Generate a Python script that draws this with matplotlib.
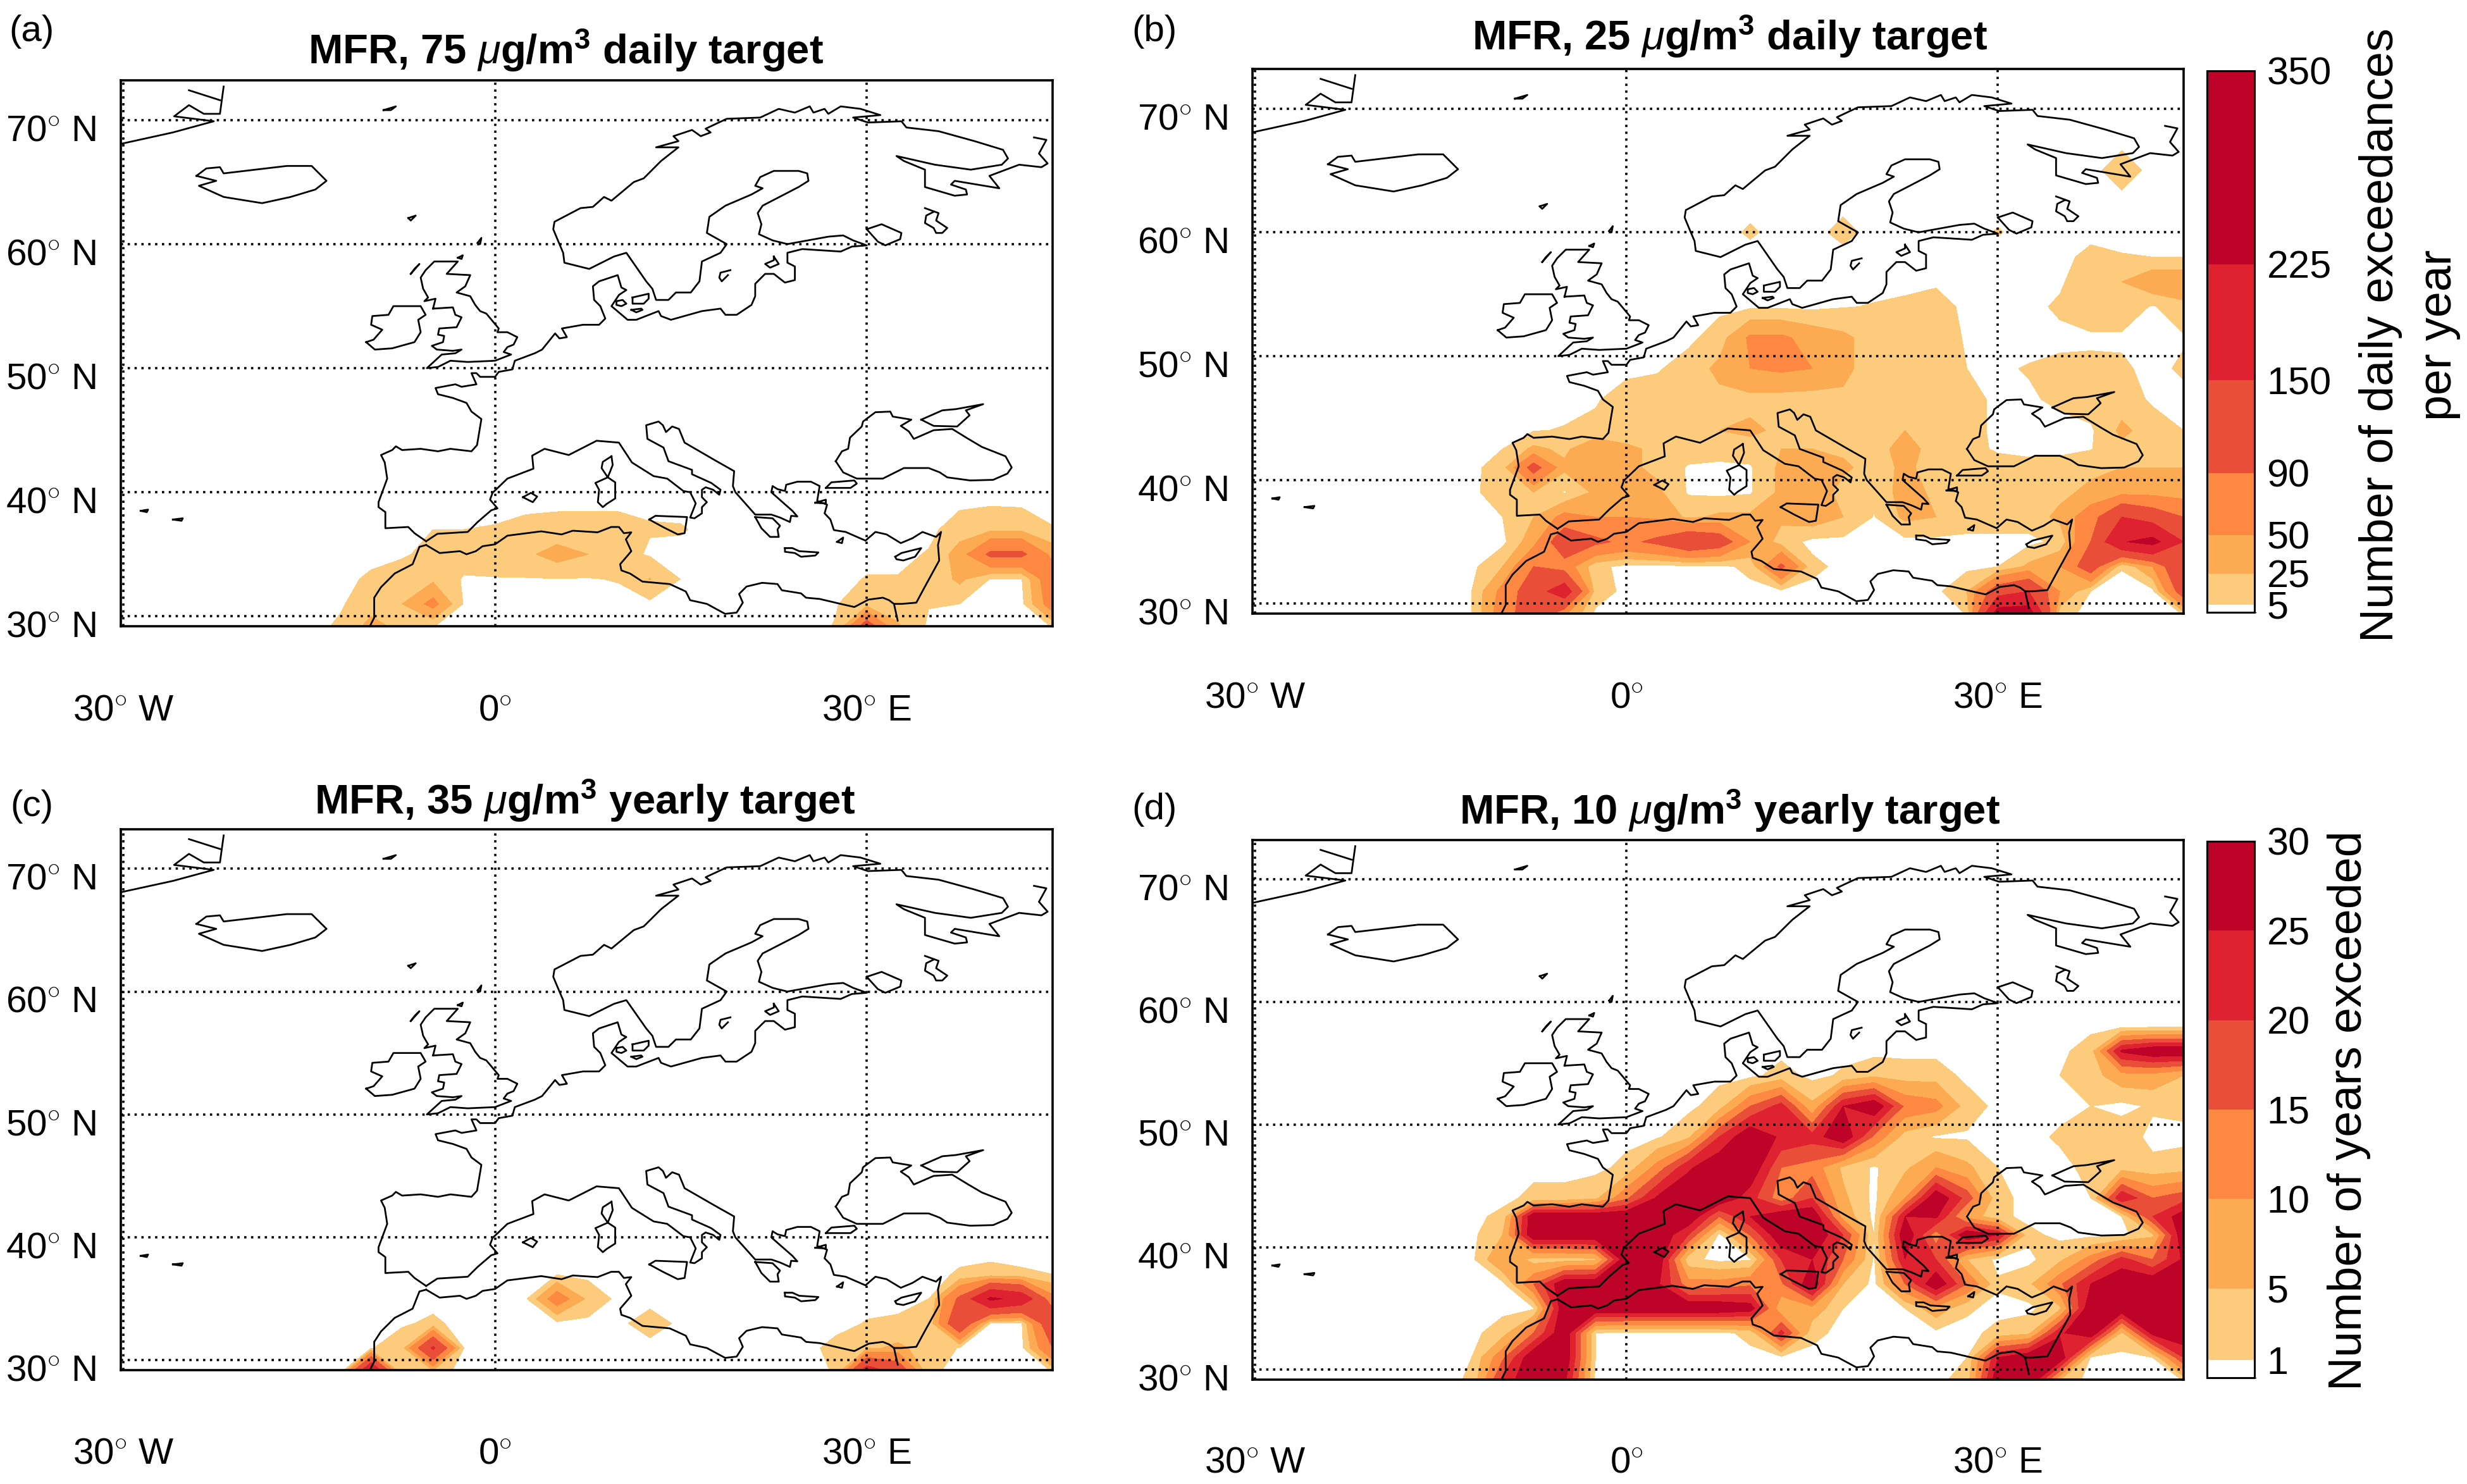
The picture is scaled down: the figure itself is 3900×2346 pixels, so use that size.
# maps of PM exceedances under the MFR scenario
import matplotlib
matplotlib.use("Agg")
import matplotlib.pyplot as plt
import numpy as np
from matplotlib.colors import BoundaryNorm, ListedColormap
from matplotlib.cm import ScalarMappable

plt.rcParams["font.family"] = ["Liberation Sans", "DejaVu Sans"]
plt.rcParams["mathtext.fontset"] = "custom"
plt.rcParams["mathtext.rm"] = "Liberation Sans"
plt.rcParams["mathtext.it"] = "Liberation Sans:italic"
plt.rcParams["mathtext.bf"] = "Liberation Sans:bold"

colores = ["#ffffff", "#fdcb7c", "#fdab52", "#fc8842", "#e94f38", "#de2230", "#bd0428"]
niveles_dias = [0, 5, 25, 50, 90, 150, 225, 350]
niveles_anios = [0, 1, 5, 10, 15, 20, 25, 30]

lons = [-15, -12.5, -10, -7.5, -5, -2.5, 0, 2.5, 5, 7.5, 10, 12.5, 15, 17.5, 20, 22.5, 25, 27.5, 30, 32.5, 35, 37.5, 40, 42.5, 45]
lats = [29, 31, 33, 35, 37, 39, 41, 42.5, 44, 46.5, 49, 51.5, 54, 56, 58, 60, 62.5, 65, 67.5]

# filas de sur a norte, las que faltan son cero
valores_a = [
    [0, 8, 35, 20, 3, 0, 0, 0, 0, 0, 0, 0, 0, 0, 0, 0, 0, 6, 130, 30, 1, 0, 0, 0, 4],
    [0, 3, 15, 25, 60, 3, 0, 0, 0, 0, 0, 1, 0, 0, 0, 0, 0, 4, 15, 12, 6, 5, 0, 0, 70],
    [0, 0, 8, 18, 20, 3, 4, 4, 4.5, 4, 6, 26, 4.5, 0, 0, 0, 0, 0, 6, 6, 8, 30, 4, 4, 80],
    [0, 0, 0, 2, 12, 15, 15, 20, 35, 25, 12, 3, 0, 0, 0, 0, 0, 0, 0, 0, 6.5, 35, 100, 100, 40],
    [0, 0, 0, 0, 5, 5, 6, 8, 10, 10, 10, 6, 6.5, 0, 0, 0, 0, 0, 0, 0, 0, 15, 20, 20, 6],
    [0, 0, 0, 0, 0, 0, 1, 3, 3, 3, 3, 3, 0, 0, 0, 0, 0, 0, 0, 0, 0, 2, 4, 3, 0],
]
valores_b = [
    [0, 5, 70, 120, 50, 0, 0, 0, 0, 0, 0, 0, 0, 0, 0, 0, 0, 5, 280, 280, 10, 0, 0, 0, 5],
    [0, 5, 60, 120, 190, 15, 0, 0, 0, 0, 0, 0, 0, 0, 0, 0, 0, 25, 120, 150, 50, 5, 0, 0, 120],
    [0, 0, 25, 90, 70, 10, 0, 0, 0, 0, 10, 100, 10, 0, 0, 0, 0, 0, 5, 30, 50, 120, 6, 50, 150],
    [0, 0, 0, 40, 130, 100, 80, 100, 140, 120, 50, 15, 0, 0, 0, 0, 0, 0, 0, 0, 10, 90, 220, 250, 150],
    [0, 0, 5, 25, 60, 50, 50, 45, 20, 30, 30, 30, 40, 25, 4, 30, 25, 15, 15, 15, 30, 70, 150, 120, 90],
    [0, 0, 18, 25, 3, 30, 30, 30, 3, 0, 3, 30, 45, 15, 10, 35, 20, 15, 15, 15, 20, 30, 40, 40, 35],
    [0, 0, 15, 110, 30, 45, 30, 20, 3, 0, 3, 30, 40, 30, 15, 30, 15, 15, 12, 10, 12, 20, 25, 25, 25],
    [0, 0, 5, 30, 20, 45, 30, 20, 15, 15, 15, 25, 25, 20, 15, 35, 15, 10, 3, 1, 1, 4, 20, 20, 20],
    [0, 0, 0, 4, 6, 10, 12, 15, 20, 25, 30, 20, 15, 10, 10, 25, 12, 10, 2, 0, 0, 2, 30, 15, 5],
    [0, 0, 0, 0, 0, 3, 14, 15, 18, 20, 18, 16, 15, 20, 15, 12, 12, 10, 2, 3, 8, 15, 15, 2, 0],
    [0, 0, 0, 0, 0, 0, 0, 3, 14, 30, 50, 55, 50, 32, 12, 10, 7, 5, 3, 6, 9, 9, 8, 0, 8],
    [0, 0, 0, 0, 0, 0, 0, 0, 0, 15, 55, 55, 40, 30, 15, 12, 10, 4, 0, 0, 1, 2, 2, 0, 3],
    [0, 0, 0, 0, 0, 0, 0, 0, 0, 0, 2, 2, 1, 4, 6, 9, 14, 0, 0, 0, 8, 18, 18, 3, 18],
    [0, 0, 0, 0, 0, 0, 0, 0, 0, 0, 0, 0, 0, 0, 0, 0, 2, 0, 0, 0, 2, 20, 25, 45, 45],
    [0, 0, 0, 0, 0, 0, 0, 0, 0, 0, 0, 0, 0, 0, 0, 0, 0, 0, 0, 0, 0, 10, 6, 5, 5],
    [0, 0, 0, 0, 0, 0, 0, 0, 0, 0, 7, 0, 0, 10, 0, 0, 0, 0, 6, 0, 0, 0, 0, 0, 0],
    [0] * 25,
    [0, 0, 0, 0, 0, 0, 0, 0, 0, 0, 0, 0, 0, 0, 0, 0, 0, 0, 0, 0, 0, 0, 14, 0, 0],
]
valores_c = [
    [0, 0, 250, 5, 12, 0, 0, 0, 0, 0, 0, 0, 0, 0, 0, 0, 0, 6, 200, 140, 8, 0, 0, 0, 5],
    [0, 0, 4, 15, 160, 4, 0, 0, 0, 0, 0, 0, 0, 0, 0, 0, 0, 10, 20, 30, 15, 4, 0, 0, 90],
    [0, 0, 0, 3, 8, 0, 0, 0, 0, 0, 2, 12, 2, 0, 0, 0, 0, 0, 6, 8, 7, 140, 3, 3, 140],
    [0, 0, 0, 0, 0, 0, 0, 3, 70, 20, 0, 0, 0, 0, 0, 0, 0, 0, 0, 0, 5, 100, 240, 200, 60],
    [0, 0, 0, 0, 0, 0, 0, 0, 4, 0, 0, 0, 0, 0, 0, 0, 0, 0, 0, 0, 0, 7, 10, 7, 5],
]
valores_d = [
    [0, 1.5, 22, 30, 26, 0, 0, 0, 0, 0, 0, 0, 0, 0, 0, 0, 0, 3, 30, 30, 3, 0, 0, 0, 0.5],
    [0, 1, 14, 30, 30, 1, 0, 0, 0, 0, 0, 0, 0, 0, 0, 0, 0, 1, 25, 30, 30, 0.5, 0, 1, 20],
    [0, 0, 3, 15, 30, 1, 0, 0, 0, 0, 2, 22, 2, 0, 0, 0, 0, 0, 2, 4, 24, 30, 4, 27, 30],
    [0, 0, 0, 0.5, 30, 30, 30, 30, 30, 30, 28, 6, 8, 1, 0, 1, 8, 1.5, 0, 0, 4, 30, 30, 30, 30],
    [0, 0, 0, 15, 30, 30, 30, 26, 12, 12, 14, 14, 30, 5, 0, 15, 30, 15, 1.5, 4, 14, 25, 30, 30, 30],
    [0, 0, 10, 3, 3, 4, 30, 30, 2, 0, 0.5, 20, 25, 15, 0.5, 25, 20, 5, 0, 0, 4, 12, 22, 15, 26],
    [0, 0, 5, 30, 30, 30, 30, 30, 20, 0, 15, 30, 30, 20, 1, 30, 12, 30, 25, 2, 0, 0, 0, 4, 30],
    [0, 0, 2, 30, 30, 30, 30, 30, 30, 15, 25, 30, 30, 8, 0, 25, 26, 8, 2, 0, 0, 0, 1, 20, 28],
    [0, 0, 0, 2, 2, 4, 14, 26, 30, 30, 22, 12, 20, 6, 0, 10, 30, 18, 2, 0, 0, 1, 25, 15, 18],
    [0, 0, 0, 0, 0, 0, 2, 12, 24, 30, 30, 15, 13, 4, 0.5, 4, 10, 6, 1, 0, 0, 2, 3, 2, 3],
    [0, 0, 0, 0, 0, 0, 0, 0.5, 4, 20, 30, 24, 22, 30, 14, 3, 0.5, 0.5, 0, 0, 1.5, 3, 3, 0, 0],
    [0, 0, 0, 0, 0, 0, 0, 0, 0, 3, 15, 22, 6, 25, 30, 14, 12, 3, 0, 0, 0, 1, 0, 1.5, 2],
    [0, 0, 0, 0, 0, 0, 0, 0, 0, 0, 0, 2.5, 0, 1.5, 4, 3, 3, 0, 0, 0, 1, 3, 8, 8, 5],
    [0, 0, 0, 0, 0, 0, 0, 0, 0, 0, 0, 0, 0, 0, 0, 0, 0, 0, 0, 0, 0, 3, 26, 30, 30],
]

# lineas de costa (lon, lat)
atlantico = [(-10.1, 29.2), (-9.75, 29.9), (-9.75, 31.5), (-9.2, 32.35), (-8.1, 33.45), (-6.65, 34.2), (-6.1, 35.6), (-5.56, 35.75)]
europa = [(-5.56, 36.05), (-6.5, 36.7), (-7, 37.2), (-8.85, 37.1), (-8.85, 38.4), (-9.4, 38.8), (-9.4, 39.2), (-8.7, 41.1), (-8.9, 42.4), (-9.2, 43), (-8.3, 43.4), (-8, 43.7), (-7.5, 43.4), (-6, 43.5), (-4.6, 43.3), (-3.6, 43.5), (-1.9, 43.3), (-1.45, 43.8), (-1.1, 45.9), (-1.9, 46.5), (-2.3, 47.2), (-3.4, 47.6), (-4.6, 47.9), (-4.8, 48.4), (-3.2, 48.7), (-2.7, 48.5), (-1.5, 48.7), (-1.9, 49.6), (-1.5, 49.6), (-1.2, 49.3), (0, 49.3), (0.3, 49.7), (1.4, 49.9), (1.6, 50.6), (3.2, 51.2), (3.8, 51.5), (4.85, 52.8), (5.2, 52.4), (5.8, 52.5), (5.4, 53.2), (7.1, 53.5), (8.4, 53.5), (8.9, 54), (8.5, 55), (8, 55.5), (7.9, 56.6), (8.4, 57), (9.9, 57.5), (10.2, 56.5), (10.6, 56.3), (10, 55.9), (9.4, 55), (10.7, 53.9), (11.4, 53.9), (13.2, 54.6), (13.4, 54.2), (14.2, 53.9), (16.7, 54.6), (18.2, 54.8), (18.6, 54.3), (19.5, 54.3), (20.7, 55.1), (21, 55.8), (21, 56.8), (21.8, 57.6), (22.5, 57.6), (23.4, 56.9), (24.2, 57.1), (24.2, 58.2), (23.6, 58.5), (23.6, 59.3), (24.8, 59.6), (27.9, 59.4), (28.8, 59.8), (30, 59.9), (28.9, 60.3), (28.1, 60.7), (26.9, 60.6), (23.6, 60), (22.4, 60.3), (21.3, 60.8), (21.5, 61.6), (21.2, 62.5), (21.6, 63.1), (24.5, 64.6), (25.3, 65.1), (25.2, 65.7), (24.5, 65.9), (22.5, 65.9), (21.4, 65.4), (21, 64.7), (21.6, 64.5), (20.7, 64), (18.6, 63.1), (17.3, 62.2), (17.1, 60.9), (18.7, 60), (18.2, 59.3), (16.7, 58.6), (16.5, 57), (15.8, 56.1), (14.6, 56.1), (14, 55.5), (13, 55.5), (12.7, 56.4), (12.2, 57), (10.6, 59.3), (9.6, 59), (7.6, 58), (5.6, 58.5), (5.5, 59.3), (5.2, 60), (4.7, 61.2), (4.8, 61.8), (6.9, 62.9), (7.9, 63), (8.8, 63.8), (9.4, 63.5), (11.2, 65), (12, 65.3), (13.4, 66.7), (14.8, 67.8), (13, 67.8), (14.8, 68.3), (14.4, 68.7), (15.9, 69.2), (16.6, 68.7), (17.4, 69), (17, 69.3), (18.7, 70.1), (21.4, 70.2), (22.9, 70.9), (24.2, 70.6), (25.4, 71.1), (25.7, 70.6), (26.6, 70.9), (26.9, 70.5), (27.9, 71.1), (29.5, 70.9), (31.1, 70.4), (28.9, 70.2), (30.1, 69.8), (32.8, 69.9), (33.2, 69.4), (35.8, 69.1), (38.7, 68.3), (41, 67.6), (41.4, 66.9), (40.9, 66.4), (38.4, 66), (35.5, 66.4), (32.4, 67.1), (33, 66.7), (34.7, 66), (34.7, 64.6), (37.1, 63.9), (38.1, 64), (38, 64.4), (36.8, 64.8), (37.1, 65.1), (40.7, 64.5), (39.9, 65.5), (42.3, 66.4), (44.1, 66.2), (44.6, 66.5), (43.9, 67.3), (44.5, 68.4), (43.5, 68.6)]
med_norte = [(-5.56, 36.05), (-4.65, 36.65), (-2.2, 36.8), (-1.4, 37.6), (-0.3, 38.55), (0.2, 38.7), (-0.4, 39.4), (-0.2, 39.95), (1, 41.1), (3.1, 41.9), (3, 42.95), (4, 43.5), (5.95, 43), (8.2, 44.15), (10, 44), (11.05, 42.4), (12.8, 41.3), (13.9, 41.1), (15.2, 40.1), (15.75, 40), (16.2, 39.1), (15.75, 37.96), (16.1, 37.9), (16.7, 38.3), (16.7, 38.8), (17.1, 39.2), (16.7, 39.6), (16.7, 40.2), (17, 40.4), (17.6, 40.2), (18.1, 39.8), (18.2, 40.2), (17.45, 40.75), (15.9, 41.45), (15.9, 41.8), (14, 42.5), (13.6, 43.6), (12.3, 44.3), (12.2, 45.4), (13.2, 45.7), (13.55, 45.4), (13.8, 44.85), (14.3, 45.3), (14.85, 45.1), (15.3, 44), (17.8, 42.55), (19.3, 41.7), (19.2, 40.5), (19.4, 40), (21, 38.2), (22.3, 38.2), (23, 37.96), (23.8, 37.6), (23.9, 38.1), (24.4, 38.05), (24, 38.5), (22.3, 40), (22.4, 40.5), (22.8, 40.25), (23.4, 40.1), (23.5, 40.6), (24.4, 40.85), (25.5, 40.85), (26.2, 40.5), (26, 39.3), (26.8, 39), (26.6, 38.3), (27.07, 37.8), (27.35, 36.95), (28.3, 36.8), (29.9, 36.1), (30.7, 36.8), (31.6, 36.6), (32.75, 35.9), (33.7, 36.3), (34.5, 36.8), (35.6, 36.4), (36, 36.8), (35.75, 35.75), (35.85, 34.5), (34.7, 32.4), (34, 31.1), (32.8, 31), (32.2, 31), (31.8, 31.3), (31.3, 31.5), (30.15, 31.35), (29, 30.75), (27.9, 31), (26.2, 31.4), (25.1, 31.5), (24.7, 31.85), (23.15, 32.1), (22.8, 32.6), (21.56, 32.7), (20.3, 32.4), (19.7, 31.8), (20, 31.1), (19.5, 30.3), (18.57, 30.2), (17.1, 31), (15.75, 31.3), (15.4, 32), (14.1, 32.6), (11.9, 32.8), (10.9, 33.45), (10.2, 33.7), (10.1, 34.2), (11, 35.25), (10.56, 36.2), (11, 36.77), (10.4, 36.7), (10, 37.2), (9.38, 37.2), (8.28, 36.77), (6.28, 36.9), (5.37, 36.6), (3.73, 36.85), (1, 36.5), (0, 35.8), (-1, 35.65), (-1.55, 35.25), (-2.3, 35), (-2.83, 35.25), (-4.47, 35.1), (-5.56, 35.75)]
mar_rojo = [(32.2, 31), (32.5, 29.65)]
mar_negro = [(27.5, 42.5), (28, 43.3), (28.5, 43.5), (28.65, 44.4), (29.6, 45.3), (29.7, 45.7), (30.7, 46.45), (31.9, 46.5), (32.1, 46.1), (33.6, 45.85), (32.75, 45.35), (33.4, 44.9), (33.8, 44.3), (35.4, 45), (36.9, 45.1), (38.2, 44.3), (39.3, 43.65), (41.2, 42.9), (41.7, 42), (41.35, 41.5), (40.2, 41), (38.35, 40.95), (36.5, 41.2), (35.9, 41.6), (35, 41.95), (33, 41.95), (31.3, 41.1), (29.2, 41.1), (28.1, 41.6), (27.5, 42.5)]
azov = [(34.4, 45.85), (36.1, 46.6), (37.2, 46.7), (39.4, 47.1), (38, 46.6), (38.3, 46.2), (37.3, 45.3), (35.4, 45.35), (34.4, 45.85)]
marmara = [(26.7, 40.35), (27.15, 40.8), (29, 40.95), (29.2, 40.7), (28.7, 40.35), (26.7, 40.35)]
islandia = [(-24.1, 65.5), (-23.3, 66.1), (-22.2, 66.2), (-21.9, 65.7), (-20.2, 65.9), (-18.5, 66.1), (-16.8, 66.3), (-14.8, 66.3), (-13.6, 65.1), (-14.5, 64.4), (-16.5, 63.8), (-18.8, 63.3), (-21.9, 63.8), (-23.9, 64.7), (-22.5, 65.1), (-24.1, 65.5)]
groenlandia = [(-30.1, 68.1), (-26, 69), (-22.7, 69.9), (-25.9, 70.3), (-25.5, 70.6), (-24.7, 71.2), (-23.5, 70.5), (-22.2, 70.5), (-21.9, 72.7)]
groenlandia_2 = [(-24.7, 72.4), (-22.2, 71.6)]
irlanda = [(-10.4, 52.1), (-9.7, 51.5), (-8.3, 51.6), (-6.5, 52.1), (-6, 52.9), (-6.2, 53.9), (-5.6, 54.3), (-6, 55), (-8.2, 55), (-8.6, 54.3), (-9.9, 54.2), (-10, 53.5), (-9.1, 53.1), (-9.8, 52.3), (-10.4, 52.1)]
britania = [(-5, 54.8), (-3.4, 54.9), (-3.2, 54.3), (-2.7, 54.1), (-3.1, 53.3), (-4.5, 53.2), (-4.6, 52.7), (-4.1, 52.6), (-4.2, 52.1), (-5.1, 51.8), (-4.7, 51.5), (-3.4, 51.4), (-2.7, 51.5), (-3.2, 51.2), (-4.3, 51.1), (-5.5, 50), (-4.6, 50.1), (-3.6, 50.6), (-2.2, 50.5), (0, 50.6), (1.3, 51.1), (0.7, 51.3), (1, 51.7), (1.5, 51.9), (1.8, 52.5), (1, 52.9), (0.2, 52.9), (0.3, 53.2), (-0.7, 54.4), (-1.2, 54.6), (-1.6, 55.1), (-2, 55.8), (-3.1, 56.1), (-2.4, 56.6), (-2, 57.5), (-3.9, 57.6), (-3, 58.6), (-4.9, 58.6), (-5.6, 57.9), (-6, 57.3), (-5.8, 56.4), (-5.4, 55.7), (-5.7, 55.4), (-4.8, 55.6), (-5, 54.8)]
islas = [
    [(9.4, 42.9), (9.5, 42.2), (9.1, 41.2), (8.6, 41.95), (8.7, 42.45), (9.4, 42.9)],
    [(9.1, 41.2), (9.7, 40.8), (9.7, 39.5), (9, 39.05), (8.7, 38.8), (8.3, 39.2), (8.4, 40.2), (8.1, 40.75), (9.1, 41.2)],
    [(2.25, 39.6), (2.9, 39.95), (3.4, 39.65), (3.05, 39.2), (2.25, 39.6)],
    [(12.45, 37.8), (12.95, 38.1), (15.5, 38), (15.3, 36.7), (14.75, 36.6), (13.55, 37.2), (12.45, 37.8)],
    [(21, 38), (21.5, 37.1), (22.2, 36.4), (22.9, 36.4), (22.8, 37), (23, 37.3), (22.4, 37.9), (21, 38)],
    [(23.4, 35.5), (24, 35.5), (24.55, 35.25), (26.1, 35.15), (25.85, 34.9), (24.7, 34.8), (24.2, 35.1), (23.4, 35.2), (23.4, 35.5)],
    [(32.3, 34.8), (32.8, 35.1), (34.4, 35.5), (33.9, 34.8), (32.95, 34.5), (32.4, 34.6), (32.3, 34.8)],
    [(27.6, 36), (28.1, 36.35), (28, 35.9), (27.6, 36)],
    [(25.85, 39.15), (26.7, 39.4), (26.7, 39.1), (25.85, 39.15)],
    [(11.1, 55.7), (12.4, 56), (12.4, 55.6), (12, 55.2), (11.1, 55.2), (11.1, 55.7)],
    [(9.8, 55.4), (10.3, 55.5), (10.6, 55.2), (10.2, 55), (9.8, 55.1), (9.8, 55.4)],
    [(11, 54.7), (11.8, 54.8), (11.9, 54.7), (11.4, 54.5), (11, 54.7)],
    [(19, 57.9), (18.2, 57.7), (18.1, 57.3), (18.3, 57), (18.8, 57.5)],
    [(22.5, 59), (22.9, 58.4), (22.2, 58.1), (21.8, 58.4), (22.5, 58.7), (22.5, 59)],
    [(-6.8, 57.6), (-6.1, 58.4), (-6.5, 58), (-6.8, 57.6)],
    [(-7, 62.1), (-6.4, 62.3), (-6.8, 61.9), (-7, 62.1)],
    [(-1.4, 60.1), (-1.1, 60.5), (-1.2, 60), (-1.4, 60.1)],
    [(-3, 58.9), (-2.6, 59.1), (-2.7, 58.8), (-3, 58.9)],
    [(-9, 70.8), (-8, 71.1), (-8.4, 70.8), (-9, 70.8)],
    [(-28.6, 38.5), (-28, 38.6), (-28.1, 38.4), (-28.6, 38.5)],
    [(-26, 37.8), (-25.2, 37.9), (-25.3, 37.7), (-26, 37.8)],
    [(30, 61.2), (31.2, 61.6), (32.8, 60.9), (32.7, 60.4), (31.5, 59.9), (30.9, 60.2), (30, 61.2)],
    [(34.7, 62.9), (35.8, 62.5), (35.6, 61.9), (36.5, 61.3), (36.1, 60.9), (35.6, 60.9), (35.4, 61.3), (34.7, 61.7), (34.8, 62.3), (35.4, 62.6)],
]
costas = [atlantico, europa, med_norte, mar_rojo, mar_negro, azov, marmara, islandia, groenlandia, groenlandia_2, irlanda, britania] + islas

lat_ticks = [30, 40, 50, 60, 70]


def a_matriz(filas):
    z = np.zeros((len(lats), len(lons)))
    z[:len(filas)] = np.array(filas)
    return z


def caja(x0, y0, x1, y1):
    # pixeles de la imagen final a fraccion de figura
    return [x0 / 3900, 1 - y1 / 2346, (x1 - x0) / 3900, (y1 - y0) / 2346]


def mapa(caja_px, filas, niveles, titulo, letra, letra_xy, titulo_xy, lon_y):
    ax = fig.add_axes(caja(*caja_px))
    ax.contourf(lons, lats, a_matriz(filas), levels=niveles, colors=colores, zorder=1)
    for linea in costas:
        xs, ys = zip(*linea)
        ax.plot(xs, ys, color="black", lw=2.0, zorder=3, solid_joinstyle="round")
    for lat in lat_ticks:
        ax.axhline(lat, color="black", lw=2.6, ls=(0, (1, 2.0)), zorder=2)
    for lon in [-30, 0, 30]:
        ax.axvline(lon, color="black", lw=2.6, ls=(0, (1, 2.0)), zorder=2)
    ax.set_xlim(-30.2, 45)
    ax.set_ylim(29.2, 73.2)
    ax.set_xticks([])
    ax.set_yticks([])
    for s in ax.spines.values():
        s.set_linewidth(2.6)
        s.set_zorder(5)
    for lat in lat_ticks:
        ax.text(-32.2, lat - 0.9, f"{lat}$^{{\\circ}}$ N", ha="right", va="center", fontsize=42)
    for lon, txt in [(-30, "30$^{\\circ}$ W"), (0, "0$^{\\circ}$"), (30, "30$^{\\circ}$ E")]:
        ax.text(lon, lon_y, txt, ha="center", va="center", fontsize=42)
    fig.text(letra_xy[0] / 3900, 1 - letra_xy[1] / 2346, letra, fontsize=42, ha="center", va="center")
    fig.text(titulo_xy[0] / 3900, 1 - titulo_xy[1] / 2346, titulo, fontsize=47, fontweight="bold", ha="center", va="center")
    return ax


def barra(caja_px, niveles, marcas):
    cax = fig.add_axes(caja(*caja_px))
    norma = BoundaryNorm(niveles, len(colores))
    cb = fig.colorbar(ScalarMappable(norm=norma, cmap=ListedColormap(colores)), cax=cax, spacing="proportional", ticks=marcas)
    cb.ax.tick_params(length=0, labelsize=44, pad=14)
    cb.outline.set_linewidth(2.2)
    return cb


fig = plt.figure(figsize=(39, 23.46), dpi=100)

mapa((191, 127, 1664, 990), valores_a, niveles_dias, r"MFR, 75 $\mathit{\mu}$g/m$^{\mathbf{3}}$ daily target", "(a)", (50, 50), (895, 80), 22.4)
mapa((1980, 109, 3452, 970), valores_b, niveles_dias, r"MFR, 25 $\mathit{\mu}$g/m$^{\mathbf{3}}$ daily target", "(b)", (1825, 50), (2735, 58), 22.4)
mapa((191, 1311, 1664, 2166), valores_c, niveles_dias, r"MFR, 35 $\mathit{\mu}$g/m$^{\mathbf{3}}$ yearly target", "(c)", (50, 1275), (925, 1265), 22.4)
mapa((1980, 1328, 3452, 2181), valores_d, niveles_anios, r"MFR, 10 $\mathit{\mu}$g/m$^{\mathbf{3}}$ yearly target", "(d)", (1825, 1280), (2735, 1281), 22.4)

barra((3489, 112, 3564, 968), niveles_dias, [5, 25, 50, 90, 150, 225, 350])
barra((3489, 1330, 3564, 2178), niveles_anios, [1, 5, 10, 15, 20, 25, 30])

fig.text(3763 / 3900, 1 - 530 / 2346, "Number of daily exceedances", rotation=90, fontsize=53, ha="center", va="center")
fig.text(3855 / 3900, 1 - 530 / 2346, "per year", rotation=90, fontsize=53, ha="center", va="center")
fig.text(3713 / 3900, 1 - 1756 / 2346, "Number of years exceeded", rotation=90, fontsize=53, ha="center", va="center")

fig.savefig("out.png", dpi=100)
